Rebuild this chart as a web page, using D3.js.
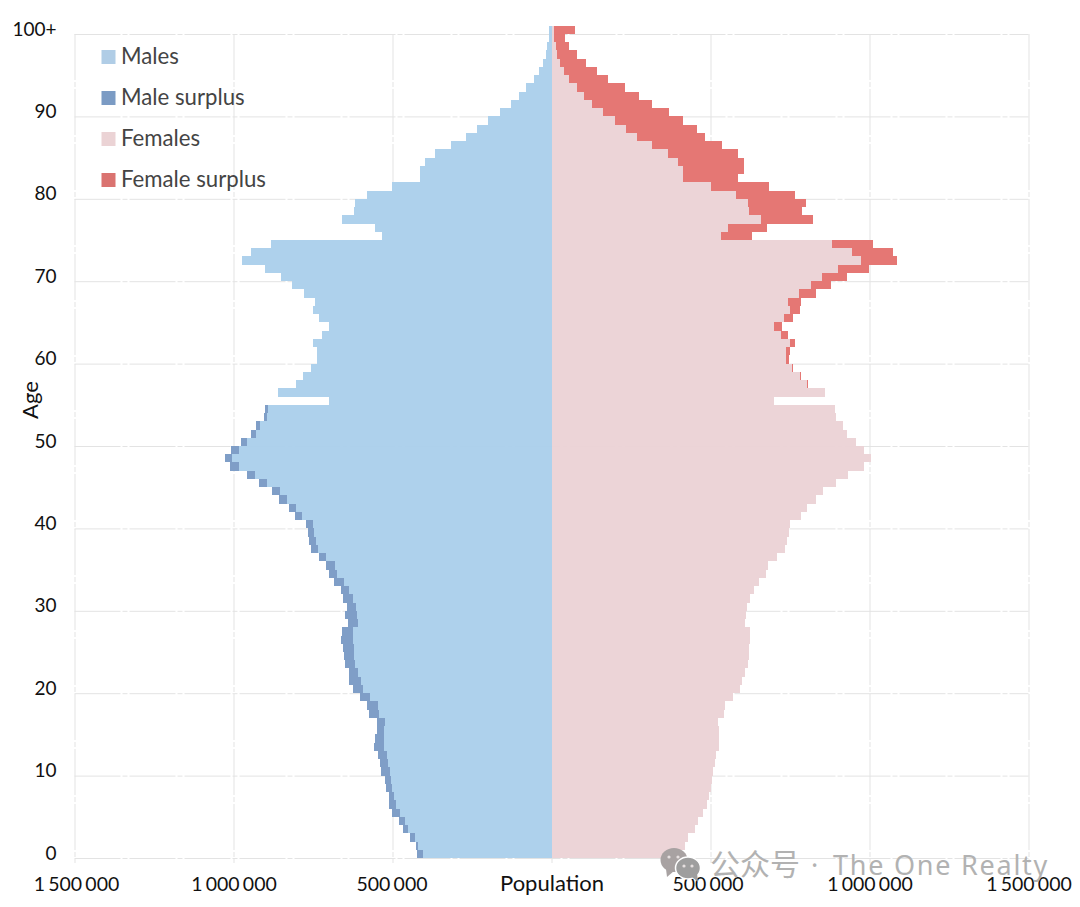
<!DOCTYPE html>
<html><head><meta charset="utf-8">
<script src="https://cdn.jsdelivr.net/npm/d3@7"></script>
<style>
html,body{margin:0;padding:0;background:#fff}
svg{display:block}
text{font-family:Lato,"Noto Sans",sans-serif}
.tick line{stroke:#e3e3e3;stroke-dasharray:46 2 5 2}
.domain{display:none}
</style></head><body>
<svg id="c" width="1080" height="907"></svg>
<script>
// Population in thousands, index = age (0 … 100+)
const ages = d3.range(0, 101);
const males = [422,426,445,468,479,502,512,512,520,525,
536,539,545,557,555,549,550,573,579,602,
623,636,636,649,654,655,662,660,641,648,
642,655,663,684,701,709,732,756,763,766,
772,806,826,857,879,920,958,1011,1027,1008,
977,945,929,903,901,699,860,804,782,755,
738,738,749,723,699,732,749,744,778,815,
852,901,973,946,883,534,555,659,621,618,
579,502,414,414,398,366,316,269,235,200,
163,128,103,80,56,40,28,18,13,8,8];
const females = [404,420,430,451,462,477,488,496,501,504,
509,514,517,528,528,526,525,543,546,572,
593,600,609,619,621,622,624,624,609,611,
614,624,637,654,674,680,710,734,742,746,
750,784,803,832,855,895,933,983,1004,983,
958,930,916,894,892,700,859,806,784,760,
746,750,765,744,724,760,782,784,832,879,
928,999,1086,1075,1012,630,677,821,787,799,
766,684,587,605,605,587,537,483,458,414,
369,316,274,232,179,142,108,79,56,42,73];
const popTicks = [-1500,-1000,-500,0,500,1000,1500];
const ageTicks = [0,10,20,30,40,50,60,70,80,90,100];
const legendLabels = ["Males","Male surplus","Females","Female surplus"];
const colors = {male:"#abcfeb",maleS:"#7b9bc5",female:"#ebd3d6",femaleS:"#e4736f"};
const legendColors = ["#b0cde6","#7b9bc4","#ebd3d5","#da7370"];

const svg = d3.select("#c");
const x = d3.scaleLinear().domain([-1500,1500]).range([74.5,1028.5]);
const y = d3.scaleLinear().domain([0,101]).range([858,25.76]);
const loc = d3.formatLocale({decimal:".",thousands:" ",grouping:[3],currency:["",""]});
const fmt = loc.format(",d");

// grid + axes
const gx = svg.append("g").attr("transform",`translate(0,${y(0)})`)
  .call(d3.axisBottom(x).tickValues(popTicks).tickSize(5).tickPadding(0)
    .tickFormat(d=> d===0 ? "Population" : fmt(Math.abs(d)*1000)));
gx.selectAll(".tick line").attr("y2",5).attr("y1",-(y(0)-y(100)));
gx.selectAll(".tick").filter(d=>d===0).select("line").attr("y1",0);
gx.selectAll(".tick text").attr("y",33).attr("dy",0).attr("fill","#111")
  .attr("font-size",d=>d===0?22:19.5).attr("word-spacing",-1.8)
  .attr("x",d=>d===500?-3:(d===-1500?1.5:(d===-500?-1:0)))
  .style("font-family","Lato");

const gy = svg.append("g").attr("transform",`translate(${x(-1500)},0)`)
  .call(d3.axisLeft(y).tickValues(ageTicks).tickSize(-(x(1500)-x(-1500))).tickPadding(0)
    .tickFormat(d=> d===100 ? "100+" : d));
gy.selectAll(".tick text").attr("x",-18).attr("dy",0).attr("y",d=>d===100?1.5:1).attr("font-size",19).attr("fill","#111")
  .style("font-family","Lato");

svg.append("text").attr("transform","translate(38,400) rotate(-90)")
  .attr("text-anchor","middle").attr("font-size",22).attr("fill","#111").text("Age");

// bars
const rows = ages.map(a=>({a,m:males[a],f:females[a],c:Math.min(males[a],females[a])}));
const bars = (cls,x0,x1,fill) => svg.append("g").selectAll("rect").data(rows).join("rect")
  .attr("class",cls)
  .attr("x",d=>Math.min(x(x0(d)),x(x1(d))))
  .attr("width",d=>Math.abs(x(x1(d))-x(x0(d))))
  .attr("y",d=>y(d.a+1)).attr("height",d=>y(d.a)-y(d.a+1))
  .attr("fill",fill).attr("shape-rendering","crispEdges").attr("fill-opacity",0.97);
bars("male-s",d=>-d.m,d=>-d.c,colors.maleS);
bars("female-s",d=>d.c,d=>d.f,colors.femaleS);
bars("male",d=>-d.c,d=>0,colors.male);
bars("female",d=>0,d=>d.c,colors.female);

// legend
const lg = svg.append("g").selectAll("g").data(legendLabels).join("g")
  .attr("transform",(d,i)=>`translate(101.5,${50+i*41})`);
lg.append("rect").attr("width",14).attr("height",14).attr("fill",(d,i)=>legendColors[i]);
lg.append("text").attr("x",19.5).attr("y",14).attr("font-size",22.2).attr("fill","#444").text(d=>d);

// watermark
const wm = svg.append("g").attr("fill","#b2b2b2");
wm.append("ellipse").attr("cx",674).attr("cy",860).attr("rx",13.5).attr("ry",12).attr("fill","#a8a2a2");
wm.append("path").attr("d","M666 869 L667 877 L674 871 Z").attr("fill","#a8a2a2");
wm.append("ellipse").attr("cx",688).attr("cy",868).attr("rx",12.5).attr("ry",11).attr("fill","#9e9e9e").attr("stroke","#fff").attr("stroke-width",1.5);
wm.append("path").attr("d","M692 877 L698 882 L697 873 Z").attr("fill","#9e9e9e");
[[669,857],[678,857],[684,866],[692,866]].forEach(p=>
  wm.append("circle").attr("cx",p[0]).attr("cy",p[1]).attr("r",1.6).attr("fill","#e6e0e0"));
wm.append("text").attr("x",710).attr("y",875).attr("font-size",30).style("font-family","'Noto Sans CJK SC'").text("公众号");
wm.append("text").attr("x",811).attr("y",875).attr("font-size",27).style("font-family","'Noto Sans'").text("·");
wm.append("text").attr("x",833).attr("y",875).attr("font-size",27).attr("letter-spacing",1.75).style("font-family","'Noto Sans'").text("The One Realty");
</script>
</body></html>
